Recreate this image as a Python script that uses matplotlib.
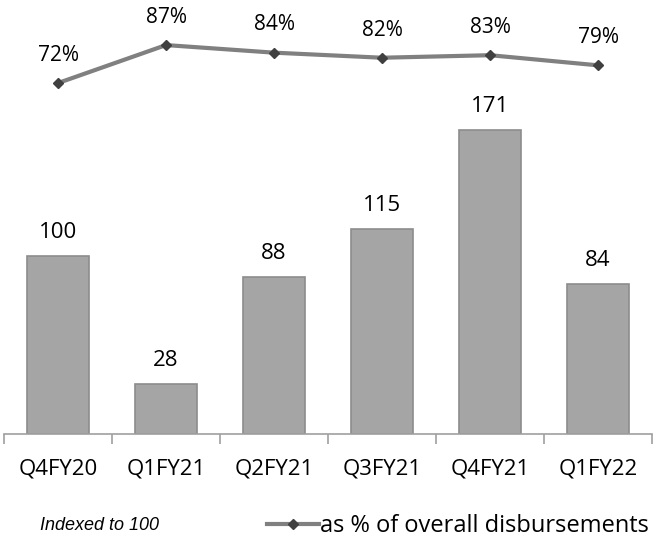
import matplotlib
matplotlib.use("Agg")
import matplotlib.pyplot as plt
from matplotlib.lines import Line2D
import numpy as np

categories = ["Q4FY20", "Q1FY21", "Q2FY21", "Q3FY21", "Q4FY21", "Q1FY22"]
indexed_values = [100, 28, 88, 115, 171, 84]
pct_disbursements = [72, 87, 84, 82, 83, 79]

plt.rcParams['font.family'] = ['Open Sans', 'DejaVu Sans']

fig = plt.figure(figsize=(6.53, 5.44), dpi=100)
ax = fig.add_axes([4/653, 110/544, 648/653, 434/544])
x = np.arange(len(categories))

ax.bar(x, indexed_values, width=0.57, color="#A5A5A5", edgecolor="#8C8C8C", linewidth=1.2, zorder=2)
for xi, v in zip(x, indexed_values):
    ax.annotate(str(v), (xi, v), xytext=(0, 13), textcoords="offset points",
                ha="center", va="baseline", fontsize=16, color="black")

ax.set_xlim(-0.5, len(categories) - 0.5)
ax.set_ylim(0, 243.8)
ax.set_yticks([])
for s in ["top", "right", "left"]:
    ax.spines[s].set_visible(False)
ax.spines["bottom"].set_color("#A0A0A0")
ax.spines["bottom"].set_linewidth(1.2)
ax.set_xticks(x)
ax.set_xticklabels(categories, fontsize=16)
ax.tick_params(axis="x", which="major", length=0, pad=18)
ax.set_xticks(np.arange(-0.5, len(categories)), minor=True)
ax.tick_params(axis="x", which="minor", length=7, color="#A0A0A0", width=1.2)

ax2 = ax.twinx()
ax2.set_ylim(-66.6, 104.8)
ax2.plot(x, pct_disbursements, color="#808080", linewidth=3, marker="D", markersize=5,
         markerfacecolor="#404040", markeredgecolor="#404040", zorder=3)
for xi, v in zip(x, pct_disbursements):
    ax2.annotate(f"{v}%", (xi, v), xytext=(0, 16), textcoords="offset points",
                 ha="center", va="baseline", fontsize=15, color="black")
ax2.set_yticks([])
for s in ["top", "right", "left", "bottom"]:
    ax2.spines[s].set_visible(False)

fig.text(100/653, 1 - 526/544, "Indexed to 100", fontsize=13, style="italic",
         family=["Liberation Sans", "DejaVu Sans"], ha="center", va="center")
handle = Line2D([0], [0], color="#808080", linewidth=3, marker="D", markersize=5,
                markerfacecolor="#404040", markeredgecolor="#404040")
fig.legend([handle], ["as % of overall disbursements"], loc="center left",
           bbox_to_anchor=(267/653, 1 - 526/544), frameon=False, fontsize=17,
           handlelength=2.2, handletextpad=0.05, borderaxespad=0, borderpad=0)

fig.savefig("out.png", dpi=100)
